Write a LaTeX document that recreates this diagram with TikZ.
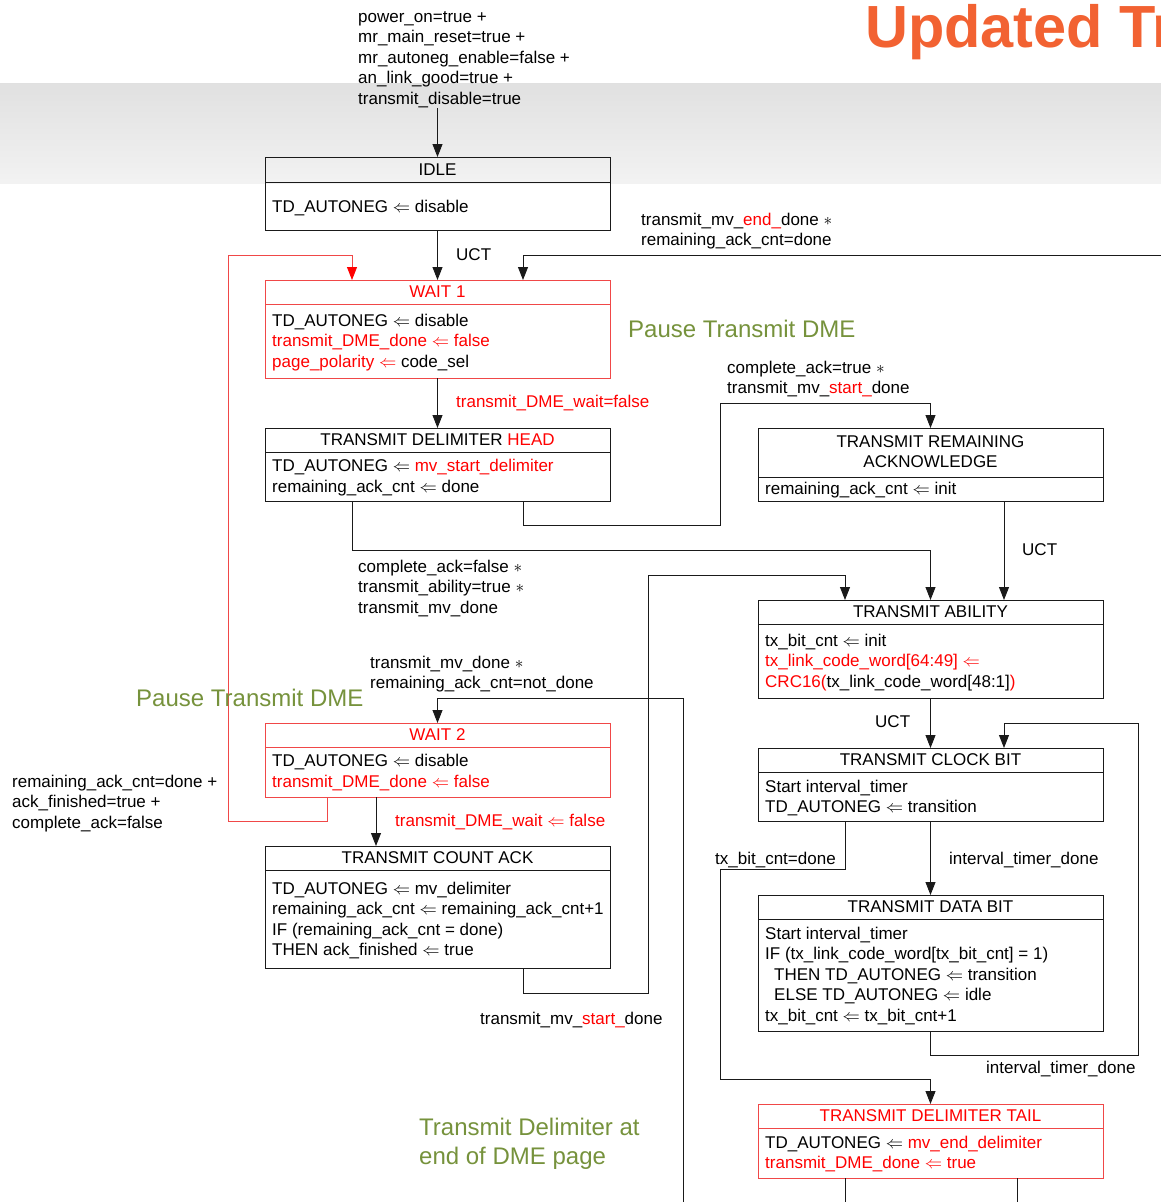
\documentclass[tikz,border=0pt]{standalone}
\usepackage{fontspec}
\setmainfont{Liberation Sans}
\usetikzlibrary{arrows.meta,calc}
\definecolor{lc}{HTML}{1A1A1A}
\definecolor{tred}{HTML}{FF0000}
\definecolor{bred}{HTML}{F04848}
\definecolor{olive}{HTML}{76923C}
\definecolor{orng}{HTML}{F26232}
\newcommand\fs{\fontsize{17}{20.5}\selectfont}
\newcommand\la{$\Leftarrow$}
\newcommand\bline[5]{\node[bt] (#1) at ([xshift=#3pt,yshift=-#4pt]#2.north west) {#5};}
\newcommand\tline[4]{\node[tt] (#1) at ([yshift=-#3pt]#2.north) {#4};}
\newcommand\divl[3]{\draw[#3] ([yshift=-#2pt]#1.north west) -- ([yshift=-#2pt]#1.north east);}
\begin{document}
\begin{tikzpicture}[x=1pt,y=-1pt,
  st/.style={draw=lc, line width=0.9pt, minimum width=345pt, anchor=north west, inner sep=0pt, outer sep=0pt},
  rst/.style={st, draw=bred},
  dl/.style={draw=lc, line width=0.9pt},
  rdl/.style={draw=bred, line width=0.9pt},
  bt/.style={anchor=base west, inner sep=0pt, font=\fs},
  tt/.style={anchor=base, inner sep=0pt, font=\fs},
  lb/.style={anchor=base west, inner sep=0pt, font=\fs},
  gr/.style={anchor=base west, inner sep=0pt, text=olive, font=\fontsize{24}{29}\selectfont},
  arr/.style={draw=lc, line width=0.9pt, -{Triangle[length=13pt,width=10pt]}},
  rarr/.style={draw=bred, line width=0.9pt, -{Triangle[length=13pt,width=10pt,color=tred]}},
  ln/.style={draw=lc, line width=0.9pt}
]
\useasboundingbox (0,0) rectangle (1161,1202);
\shade[top color=black!12, middle color=white, bottom color=black!5] (0,83) rectangle (1161,183);

% title
\node[anchor=base west, inner sep=0pt, text=orng, font=\fontsize{59.5}{62}\selectfont\bfseries] (title) at (865,47) {Updated Tr};

% states
\node[st, minimum height=73pt] (idle) at (265,157) {};
\divl{idle}{25}{dl}
\tline{idleT}{idle}{18}{IDLE}
\bline{idle1}{idle}{7}{55}{TD\_AUTONEG \la{} disable}

\node[rst, minimum height=98pt] (wait1) at (265,280) {};
\divl{wait1}{24}{rdl}
\tline{wait1T}{wait1}{17.5}{\textcolor{tred}{WAIT 1}}
\bline{wait1a}{wait1}{7}{46}{TD\_AUTONEG \la{} disable}
\bline{wait1b}{wait1}{7}{66.5}{\textcolor{tred}{transmit\_DME\_done \la{} false}}
\bline{wait1c}{wait1}{7}{87}{\textcolor{tred}{page\_polarity \la{}} code\_sel}

\node[st, minimum height=73pt] (tdh) at (265,428) {};
\divl{tdh}{24}{dl}
\tline{tdhT}{tdh}{17.5}{TRANSMIT DELIMITER \textcolor{tred}{HEAD}}
\bline{tdha}{tdh}{7}{43.5}{TD\_AUTONEG \la{} \textcolor{tred}{mv\_start\_delimiter}}
\bline{tdhb}{tdh}{7}{64}{remaining\_ack\_cnt \la{} done}

\node[st, minimum height=73pt] (tra) at (758,428) {};
\divl{tra}{49}{dl}
\tline{traT}{tra}{19}{TRANSMIT REMAINING}
\tline{traU}{tra}{39}{ACKNOWLEDGE}
\bline{traa}{tra}{7}{66}{remaining\_ack\_cnt \la{} init}

\node[st, minimum height=98pt] (ta) at (758,600) {};
\divl{ta}{24}{dl}
\tline{taT}{ta}{17.5}{TRANSMIT ABILITY}
\bline{taa}{ta}{7}{46}{tx\_bit\_cnt \la{} init}
\bline{tab}{ta}{7}{66.5}{\textcolor{tred}{tx\_link\_code\_word[64:49] \la}}
\bline{tac}{ta}{7}{87}{\textcolor{tred}{CRC16(}tx\_link\_code\_word[48:1]\textcolor{tred}{)}}

\node[rst, minimum height=74pt] (wait2) at (265,723) {};
\divl{wait2}{24}{rdl}
\tline{wait2T}{wait2}{17.5}{\textcolor{tred}{WAIT 2}}
\bline{wait2a}{wait2}{7}{43.5}{TD\_AUTONEG \la{} disable}
\bline{wait2b}{wait2}{7}{64}{\textcolor{tred}{transmit\_DME\_done \la{} false}}

\node[st, minimum height=73pt] (tcb) at (758,748) {};
\divl{tcb}{24}{dl}
\tline{tcbT}{tcb}{17.5}{TRANSMIT CLOCK BIT}
\bline{tcba}{tcb}{7}{44}{Start interval\_timer}
\bline{tcbb}{tcb}{7}{64.5}{TD\_AUTONEG \la{} transition}

\node[st, minimum height=122pt] (tca) at (265,846) {};
\divl{tca}{24}{dl}
\tline{tcaT}{tca}{17.5}{TRANSMIT COUNT ACK}
\bline{tcaa}{tca}{7}{48}{TD\_AUTONEG \la{} mv\_delimiter}
\bline{tcab}{tca}{7}{68.5}{remaining\_ack\_cnt \la{} remaining\_ack\_cnt+1}
\bline{tcac}{tca}{7}{89}{IF (remaining\_ack\_cnt = done)}
\bline{tcad}{tca}{7}{109.5}{THEN ack\_finished \la{} true}

\node[st, minimum height=136pt] (tdb) at (758,895) {};
\divl{tdb}{24}{dl}
\tline{tdbT}{tdb}{17.5}{TRANSMIT DATA BIT}
\bline{tdba}{tdb}{7}{44}{Start interval\_timer}
\bline{tdbb}{tdb}{7}{64.5}{IF (tx\_link\_code\_word[tx\_bit\_cnt] = 1)}
\bline{tdbc}{tdb}{16}{85}{THEN TD\_AUTONEG \la{} transition}
\bline{tdbd}{tdb}{16}{105.5}{ELSE TD\_AUTONEG \la{} idle}
\bline{tdbe}{tdb}{7}{126}{tx\_bit\_cnt \la{} tx\_bit\_cnt+1}

\node[rst, minimum height=74pt] (tdt) at (758,1104) {};
\divl{tdt}{24}{rdl}
\tline{tdtT}{tdt}{17.5}{\textcolor{tred}{TRANSMIT DELIMITER TAIL}}
\bline{tdta}{tdt}{7}{44}{TD\_AUTONEG \la{} \textcolor{tred}{mv\_end\_delimiter}}
\bline{tdtb}{tdt}{7}{64.5}{\textcolor{tred}{transmit\_DME\_done \la{} true}}

% free ends
\coordinate (entry) at (437.5,108);
\coordinate (inR) at (1161,255);
\coordinate (inB) at (683,1202);
\coordinate (outA) at (845,1202);
\coordinate (outB) at (1017,1202);

% connectors
\draw[arr] (entry) -- (idle.north);
\draw[arr] (idle.south) -- (wait1.north);
\draw[arr] (inR) -| ([xshift=258pt]wait1.north west);
\draw[rarr] ([xshift=62pt]wait2.south west) -- ++(0,24) -| (228,255) -| ([xshift=87pt]wait1.north west);
\draw[arr] (wait1.south) -- (tdh.north);
\draw[arr] ([xshift=258pt]tdh.south west) -- ++(0,24) -| (720,403) -| (tra.north);
\draw[arr] ([xshift=87pt]tdh.south west) -- ++(0,49) -| (ta.north);
\draw[arr] ([xshift=246pt]tra.south west) -- ([xshift=246pt]ta.north west);
\draw[arr] ([xshift=258pt]tca.south west) -- ++(0,25) -| (648,575) -| ([xshift=87pt]ta.north west);
\draw[arr] (inB) -- (683,698) -| (wait2.north);
\draw[arr] (ta.south) -- (tcb.north);
\draw[arr] ([xshift=111pt]wait2.south west) -- ([xshift=111pt]tca.north west);
\draw[arr] (tcb.south) -- (tdb.north);
\draw[arr] ([xshift=87pt]tcb.south west) -- ++(0,48) -| (720,1079) -| (tdt.north);
\draw[arr] (tdb.south) -- ++(0,24) -| (1138,723) -| ([xshift=246pt]tcb.north west);
\draw[ln] ([xshift=87pt]tdt.south west) -- (outA);
\draw[ln] ([xshift=259pt]tdt.south west) -- (outB);

% labels
\node[lb] (e1) at (358,22) {power\_on=true +};
\node[lb] (e2) at (358,42.5) {mr\_main\_reset=true +};
\node[lb] (e3) at (358,63) {mr\_autoneg\_enable=false +};
\node[lb] (e4) at (358,83.5) {an\_link\_good=true +};
\node[lb] (e5) at (358,104) {transmit\_disable=true};
\node[lb] (u1) at (456,260) {UCT};
\node[lb] (m1) at (641,225) {transmit\_mv\_\textcolor{tred}{end\_}done $\ast$};
\node[lb] (m2) at (641,245.5) {remaining\_ack\_cnt=done};
\node[gr] (g1) at (628,337) {Pause Transmit DME};
\node[lb,text=tred] (w1) at (456,407) {transmit\_DME\_wait=false};
\node[lb] (c1) at (727,373) {complete\_ack=true $\ast$};
\node[lb] (c2) at (727,393.5) {transmit\_mv\_\textcolor{tred}{start\_}done};
\node[lb] (u2) at (1022,555) {UCT};
\node[lb] (f1) at (358,572) {complete\_ack=false $\ast$};
\node[lb] (f2) at (358,592.5) {transmit\_ability=true $\ast$};
\node[lb] (f3) at (358,613) {transmit\_mv\_done};
\node[lb] (n1) at (370,668) {transmit\_mv\_done $\ast$};
\node[lb] (n2) at (370,688.5) {remaining\_ack\_cnt=not\_done};
\node[gr] (g2) at (136,706) {Pause Transmit DME};
\node[lb] (u3) at (875,727) {UCT};
\node[lb] (r1) at (12,787) {remaining\_ack\_cnt=done +};
\node[lb] (r2) at (12,807.5) {ack\_finished=true +};
\node[lb] (r3) at (12,828) {complete\_ack=false};
\node[lb,text=tred] (w2) at (395,826) {transmit\_DME\_wait \la{} false};
\node[lb] (b1) at (715,864) {tx\_bit\_cnt=done};
\node[lb] (i1) at (949,864) {interval\_timer\_done};
\node[lb] (s1) at (480,1024) {transmit\_mv\_\textcolor{tred}{start\_}done};
\node[lb] (i2) at (986,1073) {interval\_timer\_done};
\node[gr] (g3) at (419,1135) {Transmit Delimiter at};
\node[gr] (g4) at (419,1164) {end of DME page};
\end{tikzpicture}
\end{document}
